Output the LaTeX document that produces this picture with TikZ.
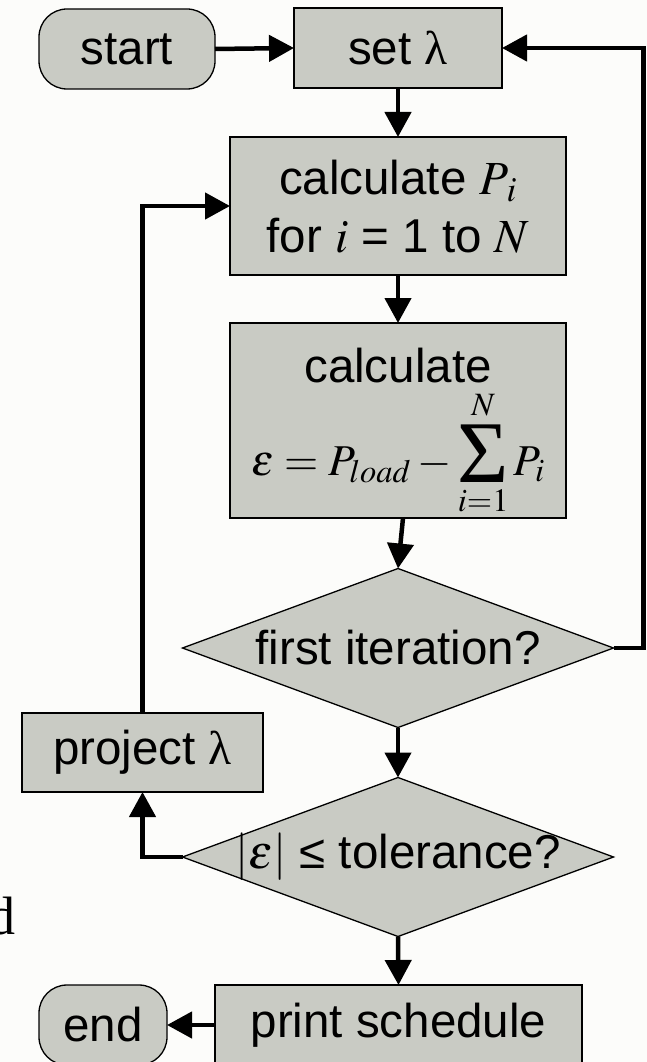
\documentclass[tikz,border=0pt]{standalone}
\usepackage{mathptmx}
\usepackage{fontspec}
\setmainfont{Liberation Serif}
\setsansfont{Liberation Sans}
\usetikzlibrary{shapes.geometric,arrows.meta}
\definecolor{boxgray}{RGB}{201,203,196}
\definecolor{bgcol}{RGB}{252,252,250}
\newcommand{\txtfont}{\sffamily\fontsize{47.5}{58}\selectfont}
\newcommand{\bigsigma}{\mathop{\raisebox{-7pt}{\rmfamily\fontsize{88}{88}\selectfont Σ}}\limits}
\tikzset{
  box/.style={draw, line width=1.3pt, fill=boxgray, inner sep=0pt, outer sep=0pt,
              font=\txtfont, align=center},
  termbox/.style={box, rounded corners=28pt},
  decbox/.style={box, shape=diamond, aspect=2.71, minimum width=431pt, minimum height=159pt},
  plaintxt/.style={inner sep=0pt, outer sep=0pt, font=\txtfont},
  conn/.style={line width=4.5pt, -{Triangle[length=25pt,width=26pt]}}
}
\begin{document}
\begin{tikzpicture}[x=1pt,y=-1pt]
\fill[bgcol] (0,0) rectangle (647,1062);
\useasboundingbox (0,0) rectangle (647,1062);

\node[termbox, minimum width=176pt, minimum height=80pt] (start) at (127,49) {start};
\node[box, minimum width=208pt, minimum height=80pt] (set) at (398,48) {set {\rmfamily λ}};
\node[box, minimum width=336pt, minimum height=138pt] (calcP) at (398,206) {};
\node[plaintxt, anchor=base] (calcPa) at (398,194) {calculate $P_{\,i}$};
\node[plaintxt, anchor=base] (calcPb) at (398,252) {for $i$ = 1 to $N$};
\node[box, minimum width=336pt, minimum height=195pt] (calcE) at (398,420.5) {};
\node[plaintxt, anchor=base] (calcEa) at (398,382) {calculate};
\node[plaintxt, anchor=base, font=\fontsize{44}{54}\selectfont] (calcEb) at (398,475)
  {$\displaystyle \varepsilon = P_{load} - \bigsigma_{i=1}^{N} P_i$};
\node[decbox] (first) at (398,648) {\makebox[0pt]{first iteration?}};
\node[box, minimum width=241pt, minimum height=79pt] (proj) at (142.5,752.5) {project {\rmfamily λ}};
\node[decbox] (tol) at (398,857) {\makebox[0pt]{$|\varepsilon|$ ≤ tolerance?}};
\node[box, minimum width=367pt, minimum height=80pt] (print) at (398.5,1025) {print schedule};
\node[termbox, minimum width=128pt, minimum height=80pt] (end) at (103,1025) {end};
\node[anchor=base east, inner sep=0pt, font=\rmfamily\fontsize{54}{60}\selectfont] (dd) at (16,934) {d};

\draw[conn] (start.east) -- (set.west);
\draw[conn] (set.south) -- (calcP.north);
\draw[conn] (calcP.south) -- (calcE.north);
\draw[conn] ([xshift=5pt]calcE.south) -- (first.north);
\draw[conn] (first.east) -- ++(30,0) |- (set.east);
\draw[conn] (first.south) -- (tol.north);
\draw[conn] (tol.west) -| (proj.south);
\draw[conn] (proj.north) |- (calcP.west);
\draw[conn] (tol.south) -- (print.north);
\draw[conn] (print.west) -- (end.east);
\end{tikzpicture}
\end{document}
